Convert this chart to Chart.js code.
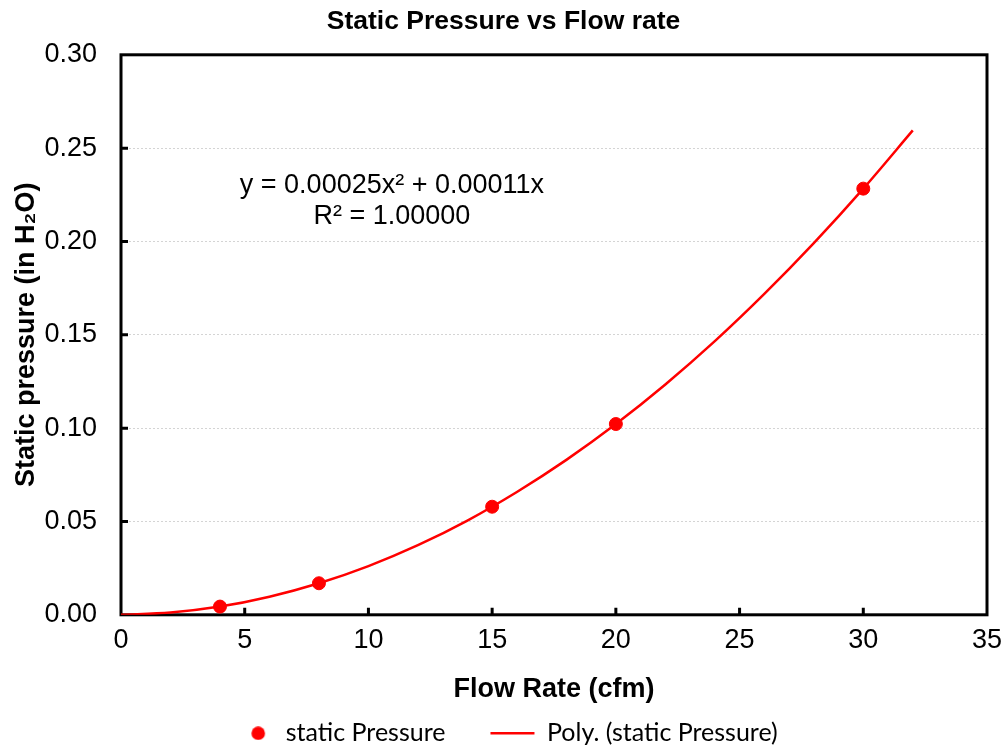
<!DOCTYPE html>
<html>
<head>
<meta charset="utf-8">
<title>Static Pressure vs Flow rate</title>
<script src="https://cdn.jsdelivr.net/npm/chart.js@4.4.0/dist/chart.umd.min.js"></script>
<style>
  html, body { margin: 0; padding: 0; background: #fff; }
</style>
</head>
<body>
<canvas id="pressure-chart" width="1006" height="749"></canvas>
<script>
// measured points
const flowRate = [4, 8, 15, 20, 30];
const staticPressure = [0.0044, 0.0169, 0.0579, 0.1022, 0.2283];

// polynomial trendline, sampled along the curve
const fitFlow = [0, 2, 4, 6, 8, 10, 12, 14, 16, 18, 20, 22, 24, 26, 28, 30, 32];
const fitPressure = [0, 0.0012, 0.0044, 0.0097, 0.0169, 0.0261, 0.0373, 0.0505, 0.0658,
    0.0830, 0.1022, 0.1234, 0.1466, 0.1719, 0.1991, 0.2283, 0.2595];

const xTicks = [0, 5, 10, 15, 20, 25, 30, 35];
const yTicks = [0, 0.05, 0.10, 0.15, 0.20, 0.25, 0.30];

const eqnLines = ['y = 0.00025x\u00B2 + 0.00011x', 'R\u00B2 = 1.00000'];

const red = '#ff0000';

Chart.defaults.font.family = '"Liberation Sans", Arial, sans-serif';
Chart.defaults.color = '#000';

// round legend marker (a plain circle style would be stretched by pointStyleWidth),
// set a little right of the box centre so it sits closer to its label
const dot = document.createElement('canvas');
dot.width = 30;
dot.height = 14;
const dctx = dot.getContext('2d');
dctx.fillStyle = red;
dctx.beginPath();
dctx.arc(22, 7, 6.8, 0, Math.PI * 2);
dctx.fill();

// black frame round the plot, with inward tick marks
const frame = {
    id: 'frame',
    beforeDatasetsDraw(chart) {
        const {ctx, chartArea: a, scales: {x, y}} = chart;
        ctx.save();
        ctx.strokeStyle = '#000';
        ctx.lineWidth = 3;
        ctx.strokeRect(a.left, a.top, a.right - a.left, a.bottom - a.top);
        ctx.beginPath();
        xTicks.slice(1, -1).forEach(v => {
            const px = x.getPixelForValue(v);
            ctx.moveTo(px, a.bottom);
            ctx.lineTo(px, a.bottom - 7);
        });
        yTicks.slice(1, -1).forEach(v => {
            const py = y.getPixelForValue(v);
            ctx.moveTo(a.left, py);
            ctx.lineTo(a.left + 7, py);
        });
        ctx.stroke();
        ctx.restore();
    }
};

// trendline equation label
const equation = {
    id: 'equation',
    afterDatasetsDraw(chart) {
        const {ctx, scales: {x, y}} = chart;
        const cx = x.getPixelForValue(10.95);
        ctx.save();
        ctx.font = '27px "Liberation Sans", Arial, sans-serif';
        ctx.fillStyle = '#000';
        ctx.textAlign = 'center';
        ctx.textBaseline = 'middle';
        ctx.fillText(eqnLines[0], cx, y.getPixelForValue(0.2297));
        ctx.fillText(eqnLines[1], cx, y.getPixelForValue(0.2136));
        ctx.restore();
    }
};

const config = {
    type: 'scatter',
    data: {
        datasets: [
            {
                label: 'static Pressure',
                data: flowRate.map((f, i) => ({x: f, y: staticPressure[i]})),
                pointStyle: 'circle',
                pointRadius: 6.5,
                pointHoverRadius: 6.5,
                pointBackgroundColor: red,
                pointBorderColor: red,
                backgroundColor: red,
                borderColor: red,
                showLine: false
            },
            {
                label: 'Poly. (static Pressure)',
                data: fitFlow.map((f, i) => ({x: f, y: fitPressure[i]})),
                showLine: true,
                borderColor: red,
                backgroundColor: red,
                borderWidth: 2.5,
                cubicInterpolationMode: 'monotone',
                pointRadius: 0,
                pointHoverRadius: 0,
                pointStyle: 'line',
                pointBorderColor: red,
                pointBorderWidth: 2.5
            }
        ]
    },
    options: {
        responsive: false,
        animation: false,
        layout: {
            padding: {top: 0, right: 19, bottom: -6.8, left: 20}
        },
        plugins: {
            tooltip: {enabled: false},
            title: {
                display: true,
                text: 'Static Pressure vs Flow rate',
                font: {size: 26.5, weight: 'bold'},
                padding: {top: 6, bottom: 17}
            },
            legend: {
                position: 'bottom',
                labels: {
                    usePointStyle: true,
                    pointStyleWidth: 44,
                    boxHeight: 9,
                    padding: 45,
                    font: {family: 'Lato, "Open Sans", sans-serif', size: 25},
                    generateLabels(chart) {
                        const items = Chart.defaults.plugins.legend.labels.generateLabels(chart);
                        items[0].pointStyle = dot;
                        return items;
                    }
                }
            }
        },
        scales: {
            x: {
                type: 'linear',
                min: 0,
                max: 35,
                afterBuildTicks: s => { s.ticks = xTicks.map(v => ({value: v})); },
                afterFit: s => {
                    s.height = 61;
                    s.paddingLeft = 0;
                    s.paddingRight = 0;
                },
                ticks: {font: {size: 27}, padding: 10, callback: v => v},
                grid: {display: false, drawTicks: false},
                border: {display: false},
                title: {
                    display: true,
                    text: 'Flow Rate (cfm)',
                    font: {size: 27, weight: 'bold'},
                    padding: {top: 0, bottom: -30.2}
                }
            },
            y: {
                type: 'linear',
                min: 0,
                max: 0.3,
                afterBuildTicks: s => { s.ticks = yTicks.map(v => ({value: v})); },
                afterFit: s => { s.width = 101; },
                ticks: {font: {size: 27}, padding: 24, callback: v => v.toFixed(2)},
                grid: {
                    color: '#d4d4d4',
                    lineWidth: 1,
                    drawTicks: false
                },
                border: {display: false, dash: [2, 2]},
                title: {
                    display: true,
                    text: 'Static pressure (in H\u2082O)',
                    font: {size: 27, weight: 'bold'},
                    padding: {top: -10, bottom: 0}
                }
            }
        }
    },
    plugins: [frame, equation]
};

const ctx = document.getElementById('pressure-chart').getContext('2d');
const pressureChart = new Chart(ctx, config);
</script>
</body>
</html>
